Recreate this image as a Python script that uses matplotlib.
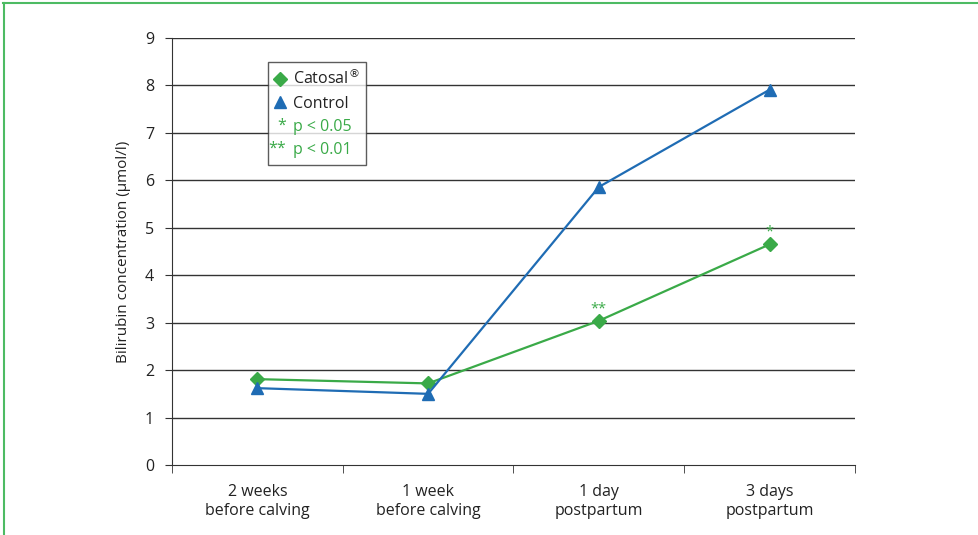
import matplotlib
matplotlib.use("Agg")
import matplotlib.pyplot as plt
from matplotlib.lines import Line2D
from matplotlib.text import Text
from matplotlib.legend_handler import HandlerBase

categories = ["2 weeks\nbefore calving", "1 week\nbefore calving", "1 day\npostpartum", "3 days\npostpartum"]
catosal = [1.81, 1.72, 3.04, 4.65]
control = [1.62, 1.50, 5.86, 7.91]
sig_labels = ["", "", "**", "*"]
yticks = list(range(0, 10))

green = "#3aaa48"
blue = "#1f6cb4"
plt.rcParams['font.family'] = ['Open Sans', 'DejaVu Sans']

fig = plt.figure(figsize=(9.79, 5.35), dpi=100)
ax = fig.add_axes([0.1757, 0.1308, 0.8733 - 0.1757, 0.929 - 0.1308])

x = list(range(len(categories)))
ax.plot(x, catosal, color=green, lw=1.6, marker="D", markersize=7, zorder=3)
ax.plot(x, control, color=blue, lw=1.6, marker="^", markersize=9, zorder=3)
for xi, yi, s in zip(x, catosal, sig_labels):
    if s:
        ax.text(xi, yi + 0.10, s, color=green, ha="center", va="bottom", fontsize=10.5)

ax.set_xlim(-0.5, len(categories) - 0.5)
ax.set_ylim(0, 9)
ax.set_yticks(yticks)
ax.set_yticklabels([str(t) for t in yticks], fontsize=11.5, color="#222222")
ax.set_xticks(x)
ax.set_xticklabels(categories, fontsize=11.5, color="#222222", linespacing=1.25)
ax.set_xticks([i - 0.5 for i in range(len(categories) + 1)], minor=True)
ax.tick_params(axis="x", which="major", length=0, pad=14)
ax.tick_params(axis="x", which="minor", length=6, direction="out", color="#333333")
ax.tick_params(axis="y", length=5, direction="out", color="#333333", pad=8)
ax.set_ylabel("Bilirubin concentration (µmol/l)", fontsize=11, color="#222222", labelpad=10)

for t in yticks[1:]:
    ax.axhline(t, color="#333333", lw=1.0, zorder=1)
for sp in ["top", "right"]:
    ax.spines[sp].set_visible(False)
ax.spines["left"].set_color("#333333")
ax.spines["bottom"].set_color("#333333")


class StarHandle:
    def __init__(self, s):
        self.s = s


class StarHandler(HandlerBase):
    def create_artists(self, legend, orig_handle, xdescent, ydescent, width, height, fontsize, trans):
        t = Text(width + 1, height / 2 - ydescent, orig_handle.s, color=green, ha="right",
                 va="center", fontsize=fontsize, transform=trans)
        return [t]


handles = [
    Line2D([], [], color=green, marker="D", ls="none", markersize=7),
    Line2D([], [], color=blue, marker="^", ls="none", markersize=9),
    StarHandle("*"),
    StarHandle("**"),
]
labels = ["Catosal$^{®}$", "Control", "p < 0.05", "p < 0.01"]
leg = ax.legend(handles, labels, loc="upper left", bbox_to_anchor=(0.1405, 0.944),
                borderaxespad=0, fontsize=11.5, frameon=True, fancybox=False, edgecolor="#333333",
                handlelength=0.6, handletextpad=0.5, borderpad=0.45, labelspacing=0.45,
                handler_map={StarHandle: StarHandler()})
leg.get_frame().set_linewidth(1.0)
leg.set_zorder(5)
texts = leg.get_texts()
texts[0].set_color("#222222")
texts[1].set_color("#222222")
texts[2].set_color(green)
texts[3].set_color(green)

# green frame around the figure (left and top)
fig.add_artist(Line2D([0.0045, 0.0045], [0, 0.995], transform=fig.transFigure, color="#4dbb63", lw=1.5))
fig.add_artist(Line2D([0.0035, 1.0], [0.994, 0.994], transform=fig.transFigure, color="#4dbb63", lw=1.5))

fig.savefig("out.png", dpi=100)
